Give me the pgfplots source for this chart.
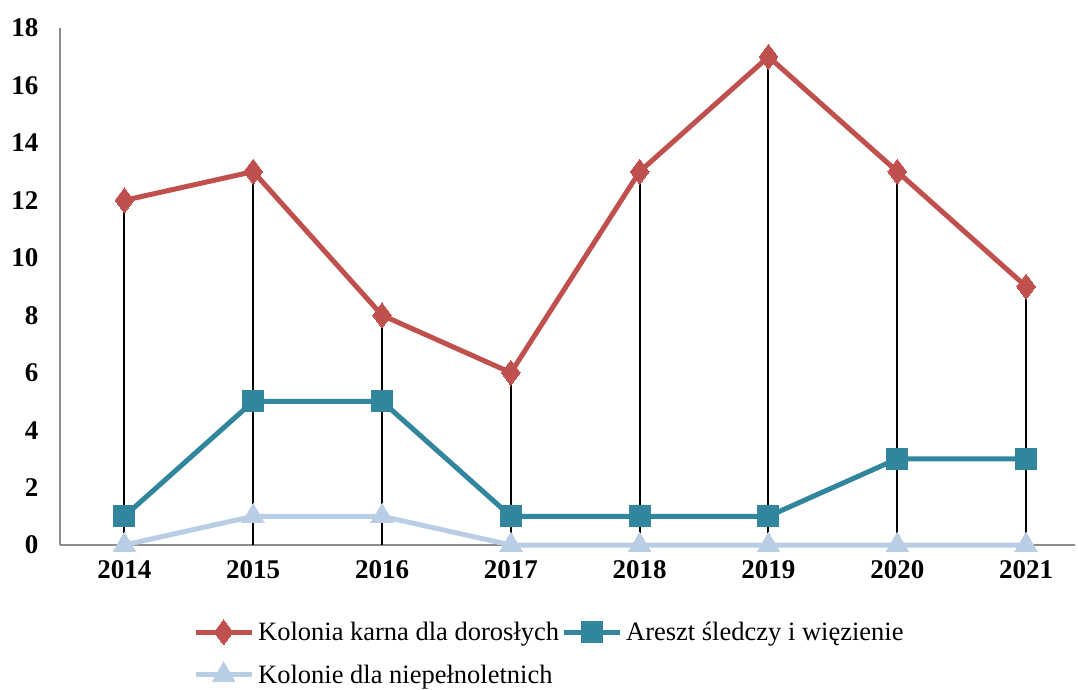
\documentclass[border=0pt]{standalone}
\usepackage{fontspec}
\setmainfont{Liberation Serif}
\usepackage{pgfplots}
\pgfplotsset{compat=1.18}
\definecolor{cred}{HTML}{C0504D}
\definecolor{cteal}{HTML}{31859C}
\definecolor{clight}{HTML}{B9CDE5}
\definecolor{cax}{HTML}{8C8C8C}
\begin{document}
\begin{tikzpicture}
\useasboundingbox (-60pt,-144pt) rectangle (1018pt,545pt);
\begin{axis}[
  scale only axis, width=1015pt, height=517pt,
  at={(0,0)}, anchor=south west,
  xmin=-0.5, xmax=7.38, ymin=0, ymax=18,
  axis x line*=bottom, axis y line*=left,
  axis line style={cax, line width=1.3pt, -},
  xtick={0,...,7},
  xticklabels={2014,2015,2016,2017,2018,2019,2020,2021},
  ytick={0,2,...,18},
  major tick length=0pt,
  /pgf/number format/assume math mode=true,
  tick label style={font=\fontsize{27}{27}\selectfont\bfseries},
  yticklabel style={xshift=-18pt},
  xticklabel style={yshift=-12pt},
  clip=false,
  legend columns=2,
  legend style={at={(0.128,-0.14)}, anchor=north west, draw=none, fill=none,
    font=\fontsize{26.5}{30}\selectfont, row sep=17pt,
    nodes={inner sep=2pt},
    /tikz/every odd column/.append style={column sep=2pt},
    /tikz/every even column/.append style={column sep=0pt}},
  legend cell align=left,
  legend image code/.code={\draw[mark repeat=2,mark phase=2] plot coordinates {(0pt,0pt)(28pt,0pt)(56pt,0pt)};},
]
\addplot[cred, line width=5pt, mark=diamond*, mark size=12.5pt, mark options={line width=0pt}]
  coordinates {(0,12)(1,13)(2,8)(3,6)(4,13)(5,17)(6,13)(7,9)};
\addlegendentry{Kolonia karna dla dorosłych}
\addplot[cteal, line width=5pt, mark=square*, mark size=10.5pt, mark options={line width=0pt}]
  coordinates {(0,1)(1,5)(2,5)(3,1)(4,1)(5,1)(6,3)(7,3)};
\addlegendentry{Areszt śledczy i więzienie}
\addplot[clight, line width=5pt, mark=triangle*, mark size=13pt, mark options={line width=0pt}]
  coordinates {(0,0)(1,1)(2,1)(3,0)(4,0)(5,0)(6,0)(7,0)};
\addlegendentry{Kolonie dla niepełnoletnich}
\addplot[black, line width=2pt, ycomb, mark=none, forget plot]
  coordinates {(0,12)(1,13)(2,8)(3,6)(4,13)(5,17)(6,13)(7,9)};
\end{axis}
\end{tikzpicture}
\end{document}
